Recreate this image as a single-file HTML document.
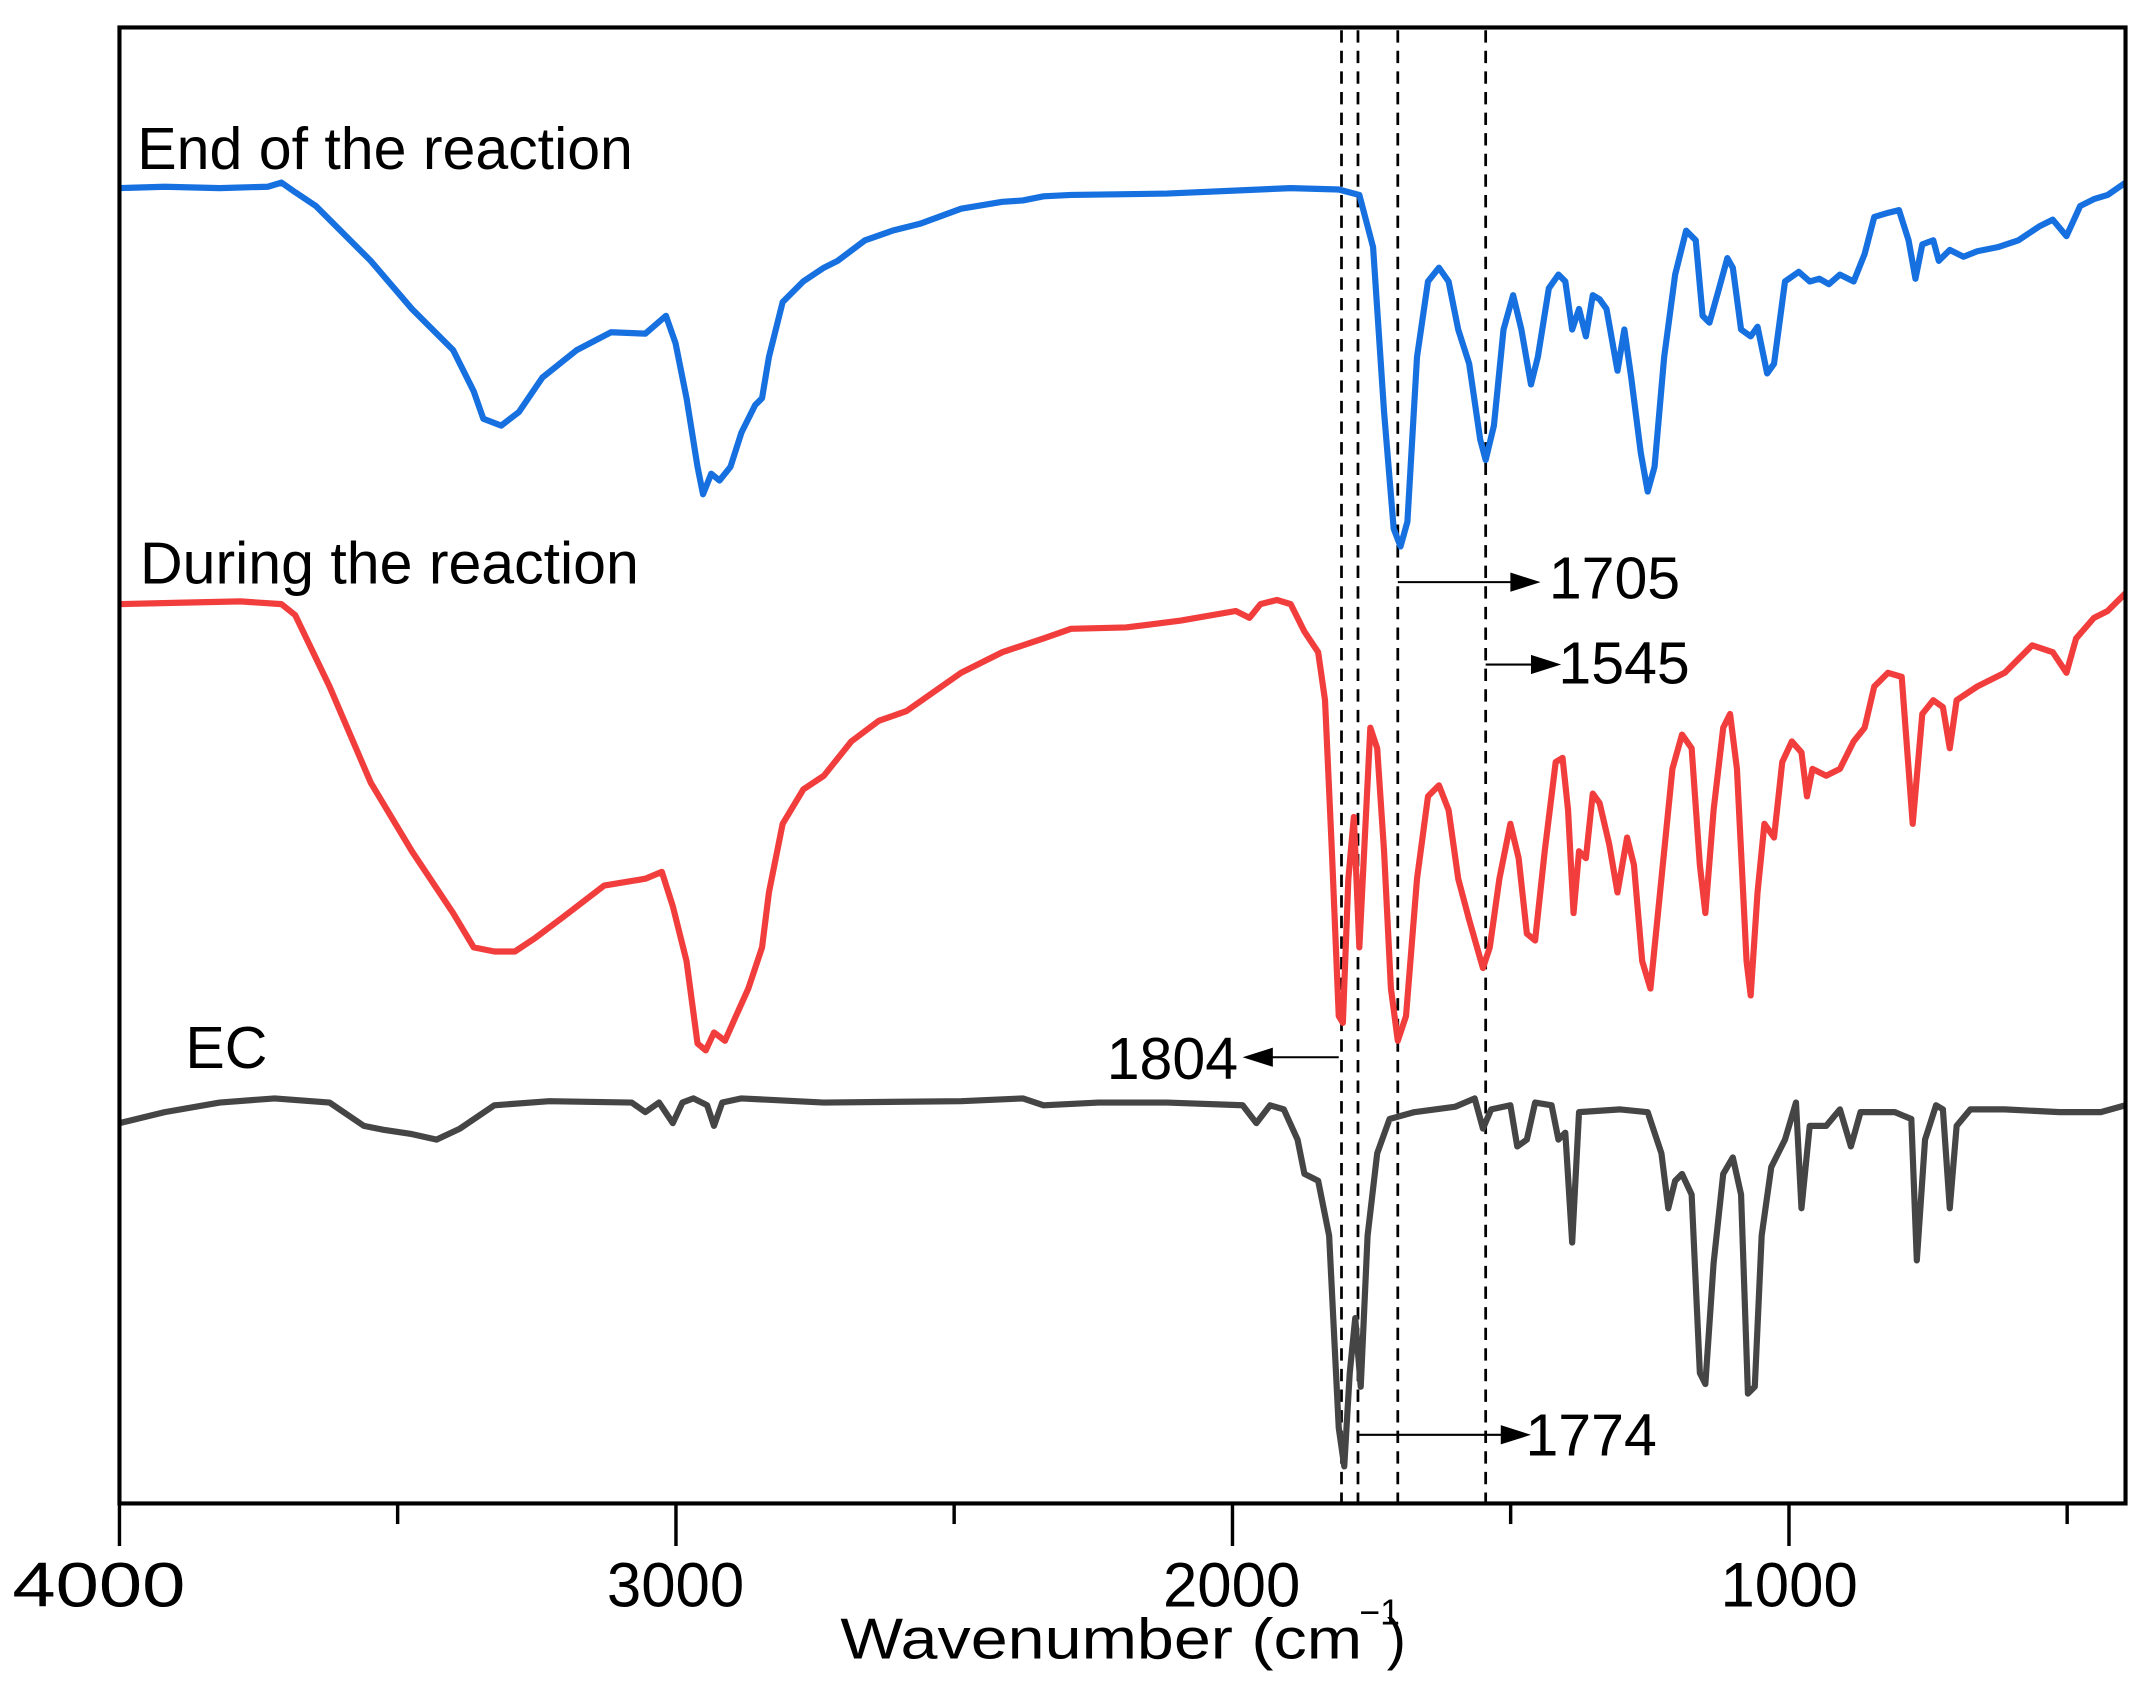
<!DOCTYPE html>
<html><head><meta charset="utf-8"><style>html,body{margin:0;padding:0;background:#fff}svg{display:block}</style></head>
<body>
<svg width="2142" height="1691" viewBox="0 0 1560 1231.6" preserveAspectRatio="none" xmlns="http://www.w3.org/2000/svg" font-family="Liberation Sans, Arial, sans-serif">
<rect x="0" y="0" width="1560" height="1232" fill="#fff"/>
<g stroke="#000" stroke-width="2" stroke-dasharray="9,6">
<line x1="977" y1="22" x2="977" y2="1094"/>
<line x1="989" y1="22" x2="989" y2="1094"/>
<line x1="1018" y1="22" x2="1018" y2="1094"/>
<line x1="1082" y1="22" x2="1082" y2="1094"/>
</g>
<g fill="none" stroke-width="4.5" stroke-linejoin="round">
<polyline stroke="#1670e0" points="87,137 120,136 160,137 195,136 205,133 215,140 230,150 270,190 300,225 330,255 345,285 352,305 365,310 378,300 395,275 420,255 445,242 470,243 485,230 492,250 500,290 508,340 512,360 518,345 524,350 532,340 540,315 550,295 555,290 560,260 570,220 585,205 600,195 610,190 630,175 650,168 670,163 700,152 730,147 745,146 760,143 780,142 850,141 940,137 975,138 990,142 1000,180 1008,300 1015,385 1020,398 1025,380 1032,260 1040,205 1048,195 1055,205 1062,240 1070,265 1078,320 1082,335 1088,310 1095,240 1102,215 1108,240 1115,280 1120,260 1128,210 1135,200 1140,205 1145,240 1150,225 1155,245 1160,215 1165,218 1170,225 1178,270 1183,240 1188,275 1195,330 1200,358 1205,340 1212,260 1220,200 1228,168 1235,175 1240,230 1245,235 1252,210 1258,188 1262,195 1268,240 1275,245 1280,238 1287,272 1292,265 1300,205 1310,198 1318,205 1325,203 1332,207 1340,200 1350,205 1358,185 1365,158 1375,155 1383,153 1390,175 1395,203 1400,178 1408,175 1412,190 1420,182 1430,187 1440,183 1455,180 1470,175 1485,165 1495,160 1505,172 1515,150 1525,145 1535,142 1548,133"/>
<polyline stroke="#f23d3d" points="87,440 130,439 175,438 205,440 215,448 240,500 270,570 300,620 330,665 345,690 360,693 375,693 390,683 410,668 440,645 470,640 482,635 490,660 500,700 508,760 514,765 520,752 528,758 536,740 545,720 555,690 560,650 570,600 585,575 600,565 620,540 640,525 660,518 700,490 730,475 760,465 780,458 820,457 860,452 900,445 910,450 918,440 930,437 940,440 950,460 960,475 965,510 970,620 975,740 978,745 982,640 986,595 990,690 993,630 998,530 1003,545 1008,620 1013,720 1018,758 1024,740 1032,640 1040,580 1048,572 1055,590 1062,640 1070,670 1080,705 1085,690 1092,640 1100,600 1106,625 1112,680 1118,685 1125,620 1133,555 1138,552 1142,590 1146,665 1150,620 1155,625 1160,578 1165,585 1172,615 1178,650 1185,610 1190,630 1196,700 1202,720 1210,640 1218,560 1225,535 1232,545 1238,630 1242,665 1248,590 1255,530 1260,520 1265,560 1272,700 1275,725 1280,650 1285,600 1292,610 1298,555 1305,540 1312,548 1316,580 1320,560 1330,565 1340,560 1350,540 1358,530 1365,500 1375,490 1385,493 1393,600 1400,520 1408,510 1415,515 1420,545 1425,510 1440,500 1460,490 1480,470 1495,475 1505,490 1512,465 1525,450 1535,445 1548,432"/>
<polyline stroke="#454545" points="87,818 120,810 160,803 200,800 240,803 265,820 280,823 300,826 318,830 335,822 360,805 400,802 460,803 470,810 480,803 490,818 497,803 505,800 515,805 520,820 526,803 540,800 600,803 700,802 745,800 760,805 800,803 850,803 905,805 915,818 925,805 935,808 945,830 950,855 960,860 968,900 975,1040 979,1068 983,1000 987,960 991,1010 996,900 1003,840 1012,815 1030,810 1060,806 1074,800 1080,822 1086,808 1100,805 1105,835 1112,830 1118,803 1130,805 1135,830 1140,825 1145,905 1150,810 1180,808 1200,810 1210,840 1215,880 1220,860 1225,855 1232,870 1238,1000 1242,1008 1248,920 1255,855 1262,843 1268,870 1273,1015 1278,1010 1283,900 1290,850 1300,830 1308,803 1312,880 1318,820 1330,820 1340,808 1348,835 1355,810 1380,810 1392,815 1396,918 1402,830 1410,805 1415,808 1420,880 1425,820 1435,808 1460,808 1500,810 1530,810 1548,805"/>
</g>
<rect x="87" y="20" width="1461" height="1075" fill="none" stroke="#000" stroke-width="3"/>
<g stroke="#000" stroke-width="2.5">
<line x1="87" y1="1095" x2="87" y2="1126"/><line x1="289.6" y1="1095" x2="289.6" y2="1110"/>
<line x1="492.3" y1="1095" x2="492.3" y2="1126"/><line x1="694.9" y1="1095" x2="694.9" y2="1110"/>
<line x1="897.6" y1="1095" x2="897.6" y2="1126"/><line x1="1100.2" y1="1095" x2="1100.2" y2="1110"/>
<line x1="1302.9" y1="1095" x2="1302.9" y2="1126"/><line x1="1505.5" y1="1095" x2="1505.5" y2="1110"/>
</g>
<g font-size="46" text-anchor="middle" fill="#000">
<text x="72" y="1170" textLength="126" lengthAdjust="spacingAndGlyphs">4000</text>
<text x="492" y="1170" textLength="100" lengthAdjust="spacingAndGlyphs">3000</text>
<text x="897" y="1170" textLength="100" lengthAdjust="spacingAndGlyphs">2000</text>
<text x="1303" y="1170" textLength="100" lengthAdjust="spacingAndGlyphs">1000</text>
</g>
<text x="612" y="1208" font-size="42" textLength="380" lengthAdjust="spacingAndGlyphs">Wavenumber (cm</text>
<text x="990" y="1183" font-size="26">−1</text>
<text x="1010" y="1208" font-size="42">)</text>
<g font-size="43" fill="#000">
<text x="100" y="123">End of the reaction</text>
<text x="102" y="425">During the reaction</text>
<text x="135" y="778">EC</text>
<text x="1128" y="436">1705</text>
<text x="1135" y="498">1545</text>
<text x="806" y="786">1804</text>
<text x="1111" y="1060">1774</text>
</g>
<g stroke="#000" stroke-width="1.5">
<line x1="1018" y1="424" x2="1105" y2="424"/>
<line x1="1082" y1="484" x2="1120" y2="484"/>
<line x1="975" y1="770" x2="922" y2="770"/>
<line x1="989" y1="1045" x2="1098" y2="1045"/>
</g>
<g fill="#000">
<polygon points="1122,424 1100,417 1100,431"/>
<polygon points="1137,484 1115,477 1115,491"/>
<polygon points="905,770 927,763 927,777"/>
<polygon points="1115,1045 1093,1038 1093,1052"/>
</g>
</svg>
</body></html>
